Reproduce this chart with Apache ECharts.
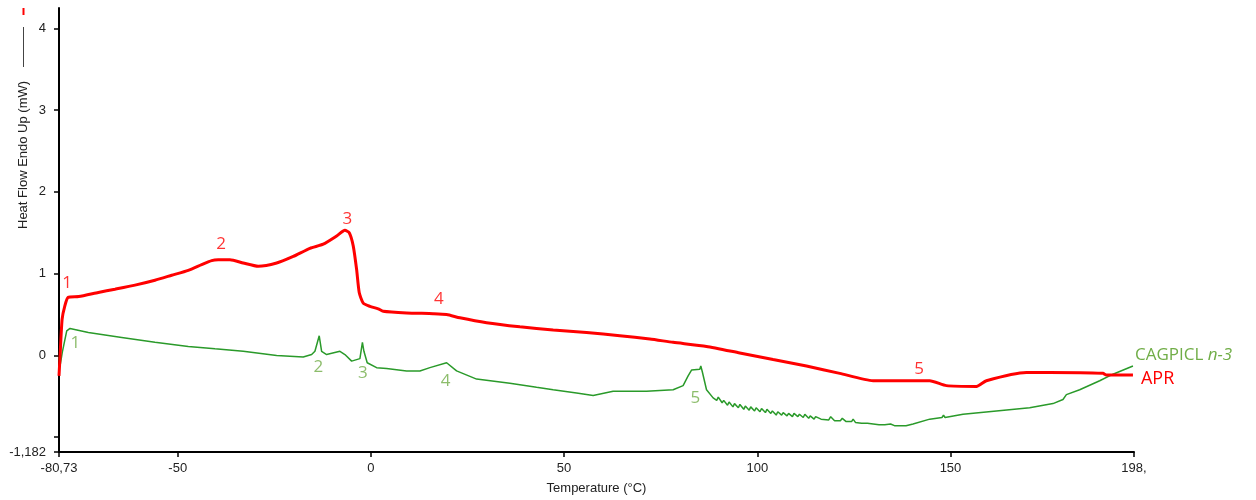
<!DOCTYPE html>
<html>
<head>
<meta charset="utf-8">
<script src="https://cdn.jsdelivr.net/npm/echarts@6/dist/echarts.min.js"></script>
<style>
html,body{margin:0;padding:0;background:#fff;}
#chart{width:1256px;height:500px;}
</style>
</head>
<body>
<div id="chart"></div>
<script>
// ---- Axis ranges and tick labels ----
const xMin = -80.73;
const xMax = 197.5;
const xTickValues = [-80.73, -50, 0, 50, 100, 150, 197.5];
const xTickLabels = ['-80,73', '-50', '0', '50', '100', '150', '198,'];
const yMin = -1.182;
const yMax = 4.25;
const yTickValues = [-1.182, -1, 0, 1, 2, 3, 4];
const yLabelValues = [-1.182, 0, 1, 2, 3, 4];
const yTickLabels = ['-1,182', '0', '1', '2', '3', '4'];

// ---- APR (red) series: temperature (°C) / heat flow (mW) ----
const redT = [-80.73, -80.5, -79.93, -79.25, -78.37, -75.63, -70.56, -66.24, -61.06, -55.89, -51.57, -47.27, -43.81, -41.22, -39.51, -36.48, -33.04, -29.16, -24.40, -20.10, -15.78, -12.34, -8.87, -6.73, -5.61, -4.58, -3.70, -3.03, -1.99, -0.26, 1.89, 3.18, 9.24, 16.12, 19.59, 23.03, 29.94, 38.55, 47.17, 55.81, 64.42, 72.19, 78.22, 86.86, 95.47, 104.09, 112.73, 121.35, 129.97, 136.87, 144.63, 148.95, 156.72, 159.30, 169.65, 175.68, 189.47, 190.35, 197.23];
const redHF = [-0.25, -0.05, 0.44, 0.60, 0.71, 0.72, 0.77, 0.81, 0.86, 0.92, 0.98, 1.04, 1.11, 1.16, 1.17, 1.17, 1.13, 1.09, 1.13, 1.21, 1.31, 1.36, 1.46, 1.53, 1.50, 1.34, 1.05, 0.77, 0.64, 0.60, 0.57, 0.54, 0.52, 0.51, 0.50, 0.46, 0.40, 0.35, 0.31, 0.28, 0.24, 0.20, 0.16, 0.11, 0.03, -0.05, -0.13, -0.22, -0.31, -0.31, -0.31, -0.37, -0.38, -0.31, -0.21, -0.21, -0.22, -0.24, -0.24];

// ---- CAGPICL n-3 (green) series ----
const greenT = [-80.73, -80.47, -79.87, -78.73, -77.88, -73.14, -64.50, -55.89, -47.27, -40.36, -33.04, -24.40, -17.52, -15.34, -14.49, -13.38, -12.76, -11.46, -8.02, -6.73, -4.99, -2.85, -2.20, -1.81, -0.96, 1.47, 4.06, 9.24, 12.68, 15.27, 19.59, 22.17, 27.35, 35.96, 42.87, 47.17, 53.22, 57.52, 62.69, 71.33, 78.22, 80.80, 82.10, 82.98, 85.12, 85.38, 85.77, 86.86, 88.57,
  89.5, 89.9, 90.9, 91.3, 92.3, 92.7, 93.7, 94.1, 95.1, 95.5, 96.5, 96.9, 97.9, 98.3, 99.3, 99.7, 100.7, 101.1, 102.1, 102.5, 103.5, 103.9, 104.9, 105.3, 106.3, 106.7, 107.7, 108.1, 109.1, 109.5, 110.5, 110.9, 111.9, 112.3, 113.3, 113.7, 114.7, 115.1, 116.5, 116.9, 118.5, 119.0, 120.0, 121.5, 122.0, 123.0, 124.4, 124.8, 125.4, 127.0, 128.5, 130.0, 131.5, 133.0, 134.5, 134.9, 135.5, 137.0, 138.5, 140.31, 144.63, 147.8, 148.2, 148.6, 153.25, 161.89, 170.50, 176.53, 179.12, 180.00, 183.44, 188.62, 192.06, 197.23];
const greenHF = [-0.02, -0.13, 0.04, 0.30, 0.33, 0.28, 0.22, 0.16, 0.11, 0.08, 0.05, 0.00, -0.02, 0.01, 0.05, 0.24, 0.05, 0.01, 0.05, 0.01, -0.07, -0.04, 0.16, 0.05, -0.09, -0.15, -0.16, -0.19, -0.19, -0.15, -0.09, -0.19, -0.29, -0.34, -0.39, -0.42, -0.46, -0.49, -0.44, -0.44, -0.42, -0.37, -0.25, -0.18, -0.17, -0.13, -0.20, -0.42, -0.52,
  -0.55, -0.51, -0.58, -0.55, -0.61, -0.57, -0.63, -0.59, -0.64, -0.60, -0.66, -0.62, -0.67, -0.63, -0.68, -0.64, -0.69, -0.65, -0.70, -0.66, -0.71, -0.68, -0.73, -0.69, -0.73, -0.70, -0.74, -0.71, -0.75, -0.71, -0.75, -0.72, -0.76, -0.72, -0.77, -0.74, -0.78, -0.75, -0.78, -0.76, -0.79, -0.75, -0.80, -0.80, -0.77, -0.81, -0.81, -0.78, -0.82, -0.83, -0.83, -0.84, -0.85, -0.85, -0.84, -0.82, -0.86, -0.86, -0.86, -0.84, -0.78, -0.76, -0.73, -0.76, -0.72, -0.68, -0.64, -0.59, -0.54, -0.48, -0.42, -0.31, -0.23, -0.13];

// ---- Peak annotations ----
const noteText = ['1', '2', '3', '4', '5'];
const redNoteT = [-78.6, -38.8, -6.1, 17.6, 141.9];
const redNoteHF = [0.88, 1.36, 1.67, 0.69, -0.17];
const greenNoteT = [-76.5, -13.6, -2.1, 19.3, 84.0];
const greenNoteHF = [0.15, -0.15, -0.22, -0.31, -0.52];

const seriesNames = ['APR', 'CAGPICL n-3'];

const RED = '#ff0000';
const GREEN_LINE = '#2a9a2a';
const GREEN_TEXT = '#70ad47';
const AXIS_FONT = '"Liberation Sans", Arial, sans-serif';
const NOTE_FONT = '"Open Sans", "Noto Sans", sans-serif';

const pairs = (a, b) => a.map((v, i) => [v, b[i]]);
const notes = (a, b) => a.map((v, i) => ({ value: [v, b[i]], name: noteText[i] }));

const chart = echarts.init(document.getElementById('chart'), null, { renderer: 'canvas' });

chart.setOption({
  animation: false,
  backgroundColor: '#ffffff',
  grid: { left: 59, right: 122, top: 8, bottom: 47, containLabel: false },
  xAxis: {
    type: 'value',
    min: xMin,
    max: xMax,
    name: 'Temperature (°C)',
    nameLocation: 'middle',
    nameGap: 30,
    nameTextStyle: { color: '#222', fontSize: 13, fontFamily: AXIS_FONT },
    axisLine: { show: true, onZero: false, lineStyle: { color: '#000', width: 2 } },
    axisTick: { show: true, length: 5, customValues: xTickValues, lineStyle: { color: '#000', width: 1.5 } },
    axisLabel: {
      customValues: xTickValues,
      margin: 10,
      color: '#222', fontSize: 13, fontFamily: AXIS_FONT,
      formatter: function (v) {
        const i = xTickValues.findIndex(t => Math.abs(t - v) < 1e-6);
        return i >= 0 ? xTickLabels[i] : '';
      }
    },
    splitLine: { show: false }
  },
  yAxis: {
    type: 'value',
    min: yMin,
    max: yMax,
    axisLine: { show: true, onZero: false, lineStyle: { color: '#000', width: 2 } },
    axisTick: { show: true, length: 5, customValues: yTickValues, lineStyle: { color: '#000', width: 1.5 } },
    axisLabel: {
      customValues: yLabelValues,
      margin: 13,
      color: '#222', fontSize: 13, fontFamily: AXIS_FONT,
      formatter: function (v) {
        const i = yLabelValues.findIndex(t => Math.abs(t - v) < 1e-6);
        return i >= 0 ? yTickLabels[i] : '';
      }
    },
    splitLine: { show: false }
  },
  series: [
    {
      name: seriesNames[0],
      type: 'line',
      data: pairs(redT, redHF),
      showSymbol: false,
      symbol: 'none',
      smooth: 0.2,
      lineStyle: { color: RED, width: 3 },
      endLabel: {
        show: true,
        formatter: 'APR',
        color: RED,
        fontSize: 18,
        fontFamily: NOTE_FONT,
        offset: [0, 4]
      },
      z: 3
    },
    {
      name: seriesNames[1],
      type: 'line',
      data: pairs(greenT, greenHF),
      showSymbol: false,
      symbol: 'none',
      lineStyle: { color: GREEN_LINE, width: 1.5 },
      endLabel: {
        show: true,
        formatter: '{a|CAGPICL }{b|n-3}',
        offset: [-6, -11],
        rich: {
          a: { color: GREEN_TEXT, fontSize: 17, fontFamily: NOTE_FONT },
          b: { color: GREEN_TEXT, fontSize: 17, fontFamily: NOTE_FONT, fontStyle: 'italic' }
        }
      },
      z: 2
    },
    {
      name: 'APR peaks',
      type: 'scatter',
      data: notes(redNoteT, redNoteHF),
      symbolSize: 0,
      silent: true,
      label: {
        show: true, position: 'inside', formatter: '{b}',
        color: RED, fontSize: 17, fontFamily: NOTE_FONT
      },
      z: 5
    },
    {
      name: 'CAGPICL peaks',
      type: 'scatter',
      data: notes(greenNoteT, greenNoteHF),
      symbolSize: 0,
      silent: true,
      label: {
        show: true, position: 'inside', formatter: '{b}',
        color: GREEN_TEXT, fontSize: 17, fontFamily: NOTE_FONT
      },
      z: 5
    }
  ],
  graphic: [
    {
      type: 'text',
      x: 23, y: 229,
      rotation: Math.PI / 2,
      style: {
        text: 'Heat Flow Endo Up (mW)',
        fill: '#222',
        font: '13px ' + AXIS_FONT,
        textAlign: 'left',
        textVerticalAlign: 'middle'
      }
    },
    {
      type: 'line',
      shape: { x1: 23.5, y1: 27, x2: 23.5, y2: 67 },
      style: { stroke: '#444', lineWidth: 1 }
    },
    {
      type: 'line',
      shape: { x1: 23.5, y1: 8, x2: 23.5, y2: 15 },
      style: { stroke: RED, lineWidth: 2 }
    }
  ]
});
</script>
</body>
</html>
